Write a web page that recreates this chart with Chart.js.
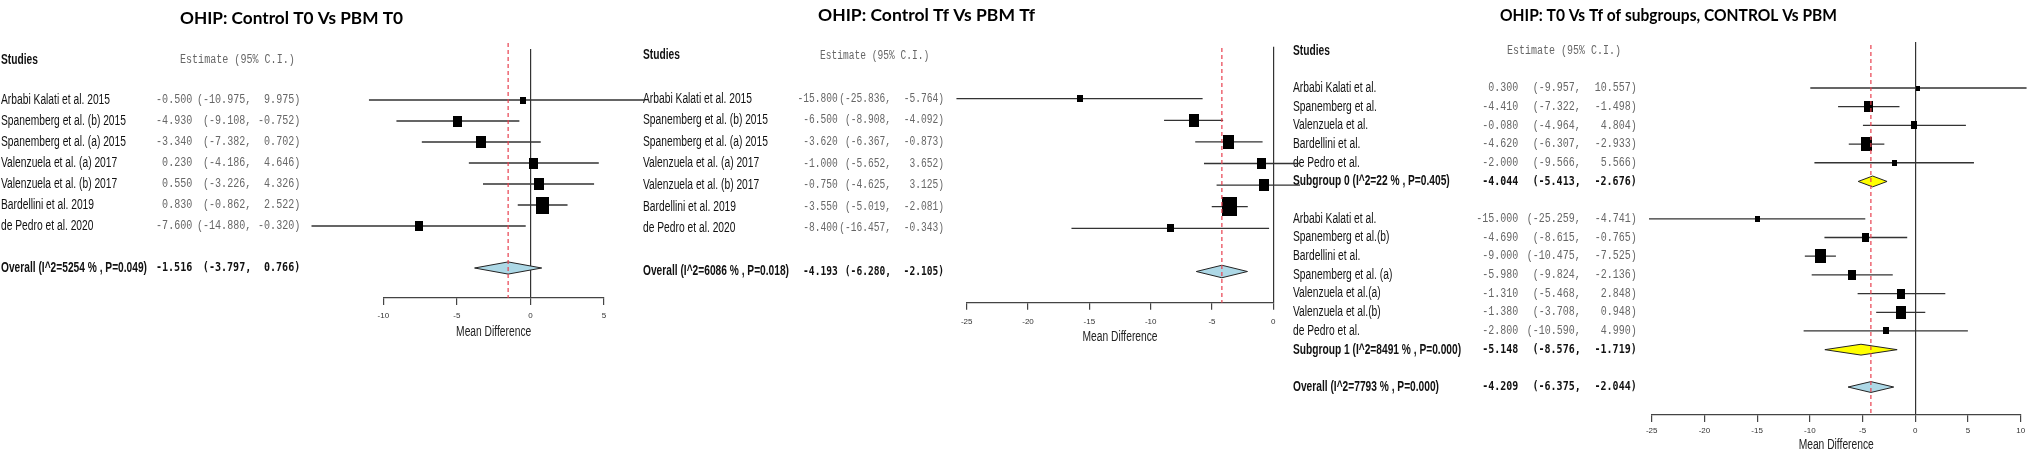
<!DOCTYPE html>
<html lang="en">
<head>
<meta charset="UTF-8">
<title>OHIP forest plots</title>
<script src="https://cdn.jsdelivr.net/npm/chart.js"></script>
<style>
  body { margin: 0; background: #fff; }
  #wrap { position: relative; width: 2030px; height: 451px; overflow: hidden; background: #fff; }
  #wrap canvas { position: absolute; top: 0; }
</style>
</head>
<body>
<div id="wrap">
  <canvas id="p3" width="740" height="451" style="left:1290px"></canvas>
  <canvas id="p2" width="660" height="451" style="left:640px"></canvas>
  <canvas id="p1" width="645" height="451" style="left:0px"></canvas>
</div>
<script>
// ---- data
const titles = ['OHIP: Control T0 Vs PBM T0', 'OHIP: Control Tf Vs PBM Tf', 'OHIP: T0 Vs Tf of subgroups, CONTROL Vs PBM'];
const axisTitle = 'Mean Difference';

// panel 1 : Control T0 vs PBM T0
const studies1 = ['Arbabi Kalati et al. 2015', 'Spanemberg et al. (b) 2015', 'Spanemberg et al. (a) 2015',
  'Valenzuela et al. (a) 2017', 'Valenzuela et al. (b) 2017', 'Bardellini et al. 2019', 'de Pedro et al. 2020'];
const est1 = [-0.500, -4.930, -3.340, 0.230, 0.550, 0.830, -7.600];
const lo1 = [-10.975, -9.108, -7.382, -4.186, -3.226, -0.862, -14.880];
const hi1 = [9.975, -0.752, 0.702, 4.646, 4.326, 2.522, -0.320];
const wt1 = [4.8, 12.9, 14.1, 11.8, 14.1, 28.2, 9.8];
const overallLabel1 = 'Overall (I^2=5254 % , P=0.049)';
const overall1 = [-1.516, -3.797, 0.766];

// panel 2 : Control Tf vs PBM Tf
const studies2 = ['Arbabi Kalati et al. 2015', 'Spanemberg et al. (b) 2015', 'Spanemberg et al. (a) 2015',
  'Valenzuela et al. (a) 2017', 'Valenzuela et al. (b) 2017', 'Bardellini et al. 2019', 'de Pedro et al. 2020'];
const est2 = [-15.800, -6.500, -3.620, -1.000, -0.750, -3.550, -8.400];
const lo2 = [-25.836, -8.908, -6.367, -5.652, -4.625, -5.019, -16.457];
const hi2 = [-5.764, -4.092, -0.873, 3.652, 3.125, -2.081, -0.343];
const wt2 = [4.4, 17.3, 19.1, 11.2, 14.1, 34.1, 6.3];
const overallLabel2 = 'Overall (I^2=6086 % , P=0.018)';
const overall2 = [-4.193, -6.280, -2.105];

// panel 3 : subgroups
const studies3 = ['Arbabi Kalati et al.', 'Spanemberg et al.', 'Valenzuela et al.', 'Bardellini et al.', 'de Pedro et al.',
  'Arbabi Kalati et al.', 'Spanemberg et al.(b)', 'Bardellini et al.', 'Spanemberg et al. (a)',
  'Valenzuela et al.(a)', 'Valenzuela et al.(b)', 'de Pedro et al.'];
const group3 = [0, 0, 0, 0, 0, 1, 1, 1, 1, 1, 1, 1];
const est3 = [0.300, -4.410, -0.080, -4.620, -2.000, -15.000, -4.690, -9.000, -5.980, -1.310, -1.380, -2.800];
const lo3 = [-9.957, -7.322, -4.964, -6.307, -9.566, -25.259, -8.615, -10.475, -9.824, -5.468, -3.708, -10.590];
const hi3 = [10.557, -1.498, 4.804, -2.933, 5.566, -4.741, -0.765, -7.525, -2.136, 2.848, 0.948, 4.990];
const wt3 = [2.7, 11.2, 5.8, 20.0, 3.5, 3.5, 8.4, 20.0, 9.8, 9.8, 15.8, 4.4];
const subLabels3 = ['Subgroup 0 (I^2=22 % , P=0.405)', 'Subgroup 1 (I^2=8491 % , P=0.000)'];
const subEst3 = [-4.044, -5.148];
const subLo3 = [-5.413, -8.576];
const subHi3 = [-2.676, -1.719];
const overallLabel3 = 'Overall (I^2=7793 % , P=0.000)';
const overall3 = [-4.209, -6.375, -2.044];

// x axis ranges / tick step
const xRange1 = [-10, 5];
const xRange2 = [-25, 0];
const xRange3 = [-25, 10];
const xStep = 5;

// ---- fonts and page geometry
const SANS = "'Liberation Sans', Arial, sans-serif";
const MONO = "'Liberation Mono', 'Courier New', monospace";
const MONO_BOLD = "'DejaVu Sans Mono', 'Liberation Mono', monospace";
const TITLE_FONT = "Lato, 'Open Sans', sans-serif";
const NAME_FONT = '14px ' + SANS;
const NAME_BOLD = 'bold 14px ' + SANS;
const DIA = 0.29; // half height of the pooled diamonds, in rows

// the original labels use condensed faces: squeeze the installed ones to the same widths
const probe = document.createElement('canvas').getContext('2d');
probe.font = NAME_FONT;
const SX = 125 / probe.measureText('Spanemberg et al. (b) 2015').width;
probe.font = NAME_BOLD;
const SXB = 146 / probe.measureText('Overall (I^2=5254 % , P=0.049)').width;
probe.font = '12px ' + MONO;
const MONO_W = probe.measureText('0000000000').width / 10;

const layouts = [
  { id: 'p1', left: 0, width: 645, area: [383.3, 604, 49, 298], row0: 100, rowH: 21, headerRow: -1.9, refTop: 43,
    nameX: 1, estHdrX: 180, estCols: [192.3, 251.3, 300.3], estChar: 6.04, title: [291.5, 18, 223], xH: 41, tickPad: 6, xTitleDy: 34 },
  { id: 'p2', left: 640, width: 660, area: [966.7, 1273.3, 46.7, 302.7], row0: 98.7, rowH: 21.6, headerRow: -2, refTop: 48,
    nameX: 643, estHdrX: 820, estCols: [837.7, 891, 944], estChar: 5.75, title: [926.5, 15, 217], xH: 41, tickPad: 7, xTitleDy: 34 },
  { id: 'p3', left: 1290, width: 740, area: [1651.7, 2020.7, 42, 415], row0: 88, rowH: 18.69, headerRow: -1.97, refTop: 45,
    nameX: 1293, estHdrX: 1507, estCols: [1518.3, 1580.7, 1636.7], estChar: 6.0, title: [1668.5, 15, 337], xH: 36, tickPad: 4, xTitleDy: 30 }
];

function simpleRows(names, est, lo, hi, wt, ovLabel, ov) {
  const rows = names.map((n, i) => ({ kind: 'study', label: n, est: est[i], lo: lo[i], hi: hi[i], wt: wt[i], row: i }));
  rows.push({ kind: 'overall', label: ovLabel, est: ov[0], lo: ov[1], hi: ov[2], row: names.length + 1 });
  return rows;
}

function subgroupRows() {
  const rows = [];
  let r = 0;
  [0, 1].forEach(g => {
    studies3.forEach((n, i) => {
      if (group3[i] === g) rows.push({ kind: 'study', label: n, est: est3[i], lo: lo3[i], hi: hi3[i], wt: wt3[i], row: r++ });
    });
    rows.push({ kind: 'sub', label: subLabels3[g], est: subEst3[g], lo: subLo3[g], hi: subHi3[g], row: r++ });
    r++;
  });
  rows.push({ kind: 'overall', label: overallLabel3, est: overall3[0], lo: overall3[1], hi: overall3[2], row: r });
  return rows;
}

// black weight box (slightly taller than wide, like the original export)
function boxImage(w) {
  const h = 3.2 * Math.sqrt(w);
  const c = document.createElement('canvas');
  c.width = Math.max(3, Math.round(0.75 * h + 0.5));
  c.height = Math.max(3, Math.round(h));
  const g = c.getContext('2d');
  g.fillStyle = '#000';
  g.fillRect(0, 0, c.width, c.height);
  return c;
}

// text squeezed horizontally by sx
function sqText(ctx, text, x, y, font, sx, align) {
  ctx.save();
  ctx.font = font;
  ctx.translate(x, y);
  ctx.scale(sx, 1);
  ctx.textAlign = align;
  ctx.fillText(text, 0, 0);
  ctx.restore();
}

function textPlugin(L, rows, title) {
  const off = L.left;
  const sxMono = L.estChar / MONO_W;
  return {
    id: 'forestText',
    afterDraw(chart) {
      const ctx = chart.ctx;
      const ys = chart.scales.y;
      const area = chart.chartArea;
      ctx.save();
      ctx.textBaseline = 'middle';

      // panel title, Calibri-like: bold, tall, fairly narrow
      ctx.fillStyle = '#000';
      const tFont = 'bold 17.5px ' + TITLE_FONT;
      ctx.font = tFont;
      sqText(ctx, title, L.title[0] - off, L.title[1], tFont, L.title[2] / ctx.measureText(title).width, 'center');

      // axis title
      ctx.fillStyle = '#222';
      sqText(ctx, axisTitle, (area.left + area.right) / 2, area.bottom + L.xTitleDy, NAME_FONT, SX, 'center');

      // column headers
      const hy = ys.getPixelForValue(L.headerRow);
      ctx.fillStyle = '#111';
      sqText(ctx, 'Studies', L.nameX - off, hy, NAME_BOLD, SXB, 'left');
      ctx.fillStyle = '#666';
      sqText(ctx, 'Estimate (95% C.I.)', L.estHdrX - off, hy, '12px ' + MONO, sxMono, 'left');

      rows.forEach(r => {
        const y = ys.getPixelForValue(r.row);
        const plain = r.kind === 'study';
        ctx.fillStyle = '#111';
        sqText(ctx, r.label, L.nameX - off, y, plain ? NAME_FONT : NAME_BOLD, plain ? SX : SXB, 'left');

        ctx.fillStyle = plain ? '#666' : '#111';
        const f = plain ? '12px ' + MONO : 'bold 12px ' + MONO_BOLD;
        sqText(ctx, r.est.toFixed(3), L.estCols[0] - off, y, f, sxMono, 'right');
        sqText(ctx, '(' + r.lo.toFixed(3) + ',', L.estCols[1] - off, y, f, sxMono, 'right');
        sqText(ctx, r.hi.toFixed(3) + ')', L.estCols[2] - off, y, f, sxMono, 'right');
      });
      ctx.restore();
    }
  };
}

function drawPanel(L, rows, xRange, title) {
  const off = L.left;
  const [aL, aR, aT, aB] = L.area;
  const yMin = (aT - L.row0) / L.rowH;
  const yMax = (aB - L.row0) / L.rowH;
  const refTopVal = (L.refTop - L.row0) / L.rowH;

  const studies = rows.filter(r => r.kind === 'study');
  const summaries = rows.filter(r => r.kind !== 'study');
  const overall = rows.find(r => r.kind === 'overall');
  const boxes = studies.map(r => boxImage(r.wt));

  const ciData = [];
  studies.forEach(r => {
    ciData.push({ x: r.lo, y: r.row }, { x: r.hi, y: r.row }, { x: r.hi, y: null });
  });

  const datasets = [
    {
      label: 'pooled estimate', data: [{ x: overall.est, y: refTopVal }, { x: overall.est, y: yMax }],
      borderColor: '#e8404f', borderWidth: 1.2, borderDash: [4, 3], pointRadius: 0, clip: false, order: 0
    },
    {
      label: 'study estimates', data: studies.map(r => ({ x: r.est, y: r.row })),
      showLine: false, pointRadius: 4, pointStyle: c => boxes[c.dataIndex], order: 1
    },
    ...summaries.map(r => ({
      label: r.label,
      data: [{ x: r.lo, y: r.row }, { x: r.est, y: r.row - DIA }, { x: r.hi, y: r.row },
             { x: r.est, y: r.row + DIA }, { x: r.lo, y: r.row }],
      fill: 'shape', backgroundColor: r.kind === 'sub' ? '#ffff00' : '#add8e6',
      borderColor: '#222', borderWidth: 1, pointRadius: 0, clip: false, order: 2
    })),
    {
      label: 'confidence intervals', data: ciData, borderColor: '#333', borderWidth: 1.3,
      pointRadius: 0, spanGaps: false, clip: false, order: 3
    }
  ];

  new Chart(document.getElementById(L.id), {
    type: 'line',
    data: { datasets },
    options: {
      responsive: false,
      animation: false,
      events: [],
      layout: { padding: { left: aL - off, right: off + L.width - aR, top: aT, bottom: 451 - aB - L.xH } },
      plugins: { legend: { display: false }, tooltip: { enabled: false } },
      scales: {
        x: {
          type: 'linear', min: xRange[0], max: xRange[1],
          ticks: { stepSize: xStep, font: { size: 8, family: SANS }, color: '#333', padding: L.tickPad, maxRotation: 0 },
          grid: {
            color: c => (c.tick && c.tick.value === 0 ? '#333' : 'rgba(0,0,0,0)'),
            lineWidth: 1.2, tickColor: '#444', tickLength: 7
          },
          border: { display: true, color: '#444', width: 1.2 },
          afterFit: s => { s.height = L.xH; }
        },
        y: { type: 'linear', reverse: true, min: yMin, max: yMax, display: false }
      }
    },
    plugins: [textPlugin(L, rows, title)]
  });
}

drawPanel(layouts[0], simpleRows(studies1, est1, lo1, hi1, wt1, overallLabel1, overall1), xRange1, titles[0]);
drawPanel(layouts[1], simpleRows(studies2, est2, lo2, hi2, wt2, overallLabel2, overall2), xRange2, titles[1]);
drawPanel(layouts[2], subgroupRows(), xRange3, titles[2]);
</script>
</body>
</html>
